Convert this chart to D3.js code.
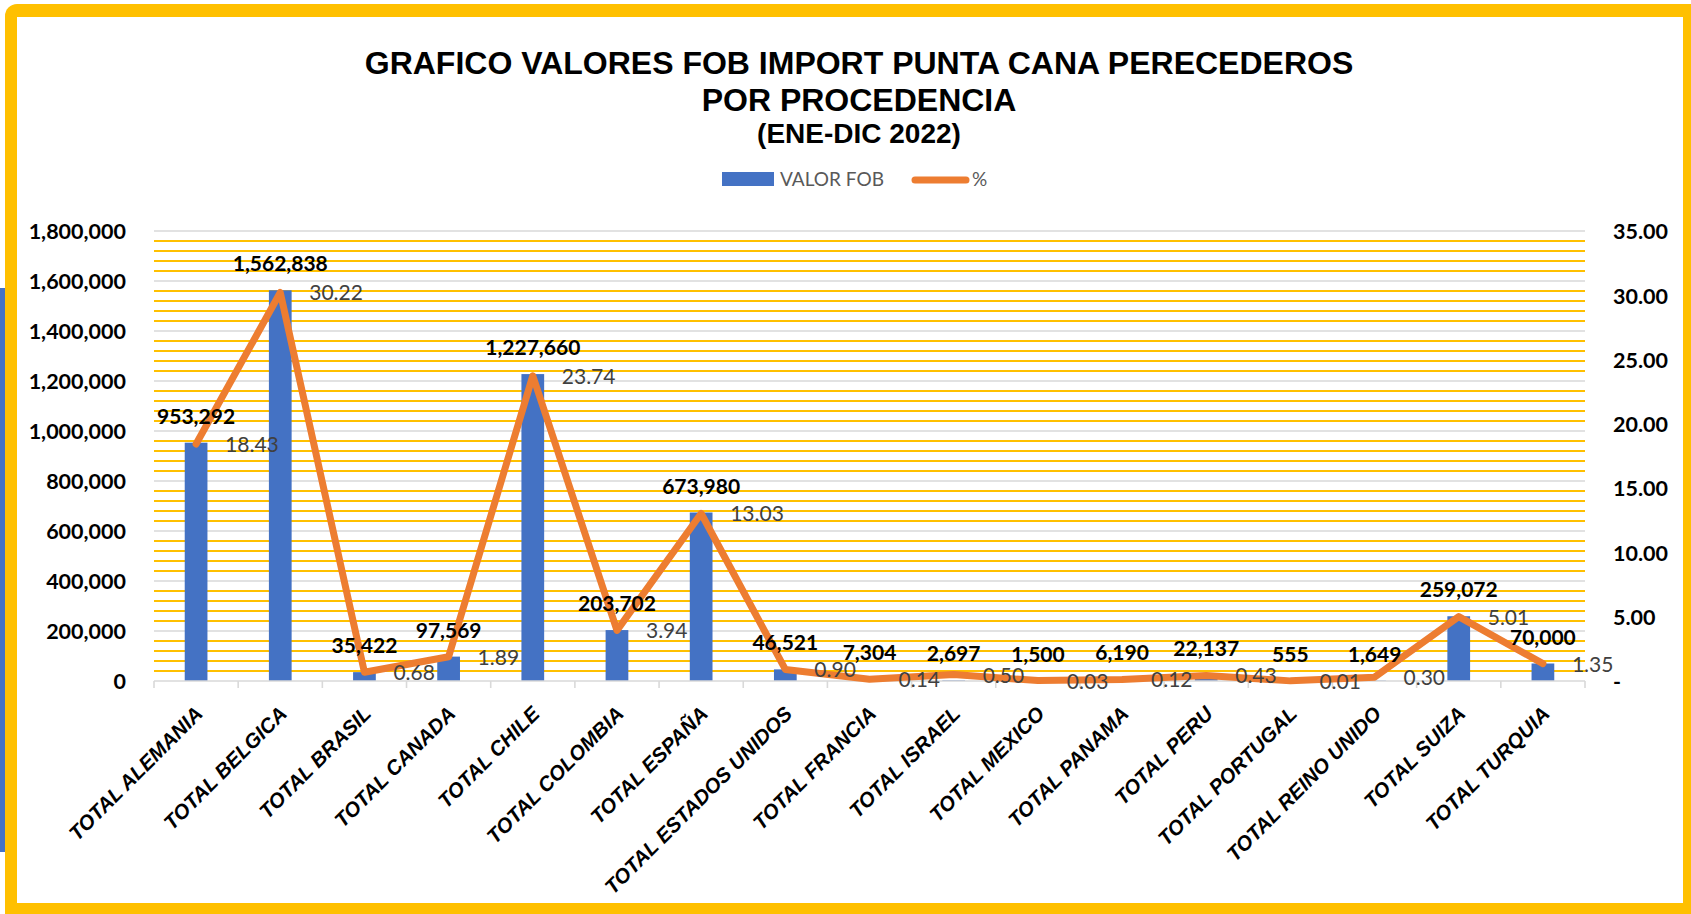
<!DOCTYPE html>
<html>
<head>
<meta charset="utf-8">
<script src="https://cdn.jsdelivr.net/npm/d3@7"></script>
<style>
  html, body { margin: 0; padding: 0; background: #ffffff; }
  svg { display: block; }
</style>
</head>
<body>
<svg id="chart" width="1691" height="914"></svg>
<script>
// ---------- DATA ----------
const categories = [
  "TOTAL ALEMANIA", "TOTAL BELGICA", "TOTAL BRASIL", "TOTAL CANADA", "TOTAL CHILE",
  "TOTAL COLOMBIA", "TOTAL ESPAÑA", "TOTAL ESTADOS UNIDOS", "TOTAL FRANCIA", "TOTAL ISRAEL",
  "TOTAL MEXICO", "TOTAL PANAMA", "TOTAL PERU", "TOTAL PORTUGAL", "TOTAL REINO UNIDO",
  "TOTAL SUIZA", "TOTAL TURQUIA"
];
const valorFob = [953292, 1562838, 35422, 97569, 1227660, 203702, 673980, 46521, 7304,
  2697, 1500, 6190, 22137, 555, 1649, 259072, 70000];
const percent = [18.43, 30.22, 0.68, 1.89, 23.74, 3.94, 13.03, 0.90, 0.14,
  0.50, 0.03, 0.12, 0.43, 0.01, 0.30, 5.01, 1.35];
const leftTicks = [0, 200000, 400000, 600000, 800000, 1000000, 1200000, 1400000, 1600000, 1800000];
const rightTicks = [0, 5, 10, 15, 20, 25, 30, 35];
const minorTicks = d3.range(0, 1800001, 40000).filter(v => v % 200000 !== 0);
const titleLines = ["GRAFICO VALORES FOB IMPORT PUNTA CANA PERECEDEROS", "POR PROCEDENCIA", "(ENE-DIC 2022)"];
const seriesNames = ["VALOR FOB", "%"];

// ---------- LAYOUT ----------
const svg = d3.select("#chart");
const plot = { left: 154, right: 1585, top: 231, bottom: 681 };
const BLUE = "#4472C4", ORANGE = "#ED7D31", GOLD = "#FFC000", GRID = "#D9D9D9";
const LABEL_FONT = "Lato, 'Open Sans', 'Liberation Sans', sans-serif";
const TITLE_FONT = "'Liberation Sans', Arial, sans-serif";

// frame
svg.append("rect").attr("x", 0).attr("y", 288).attr("width", 6).attr("height", 564).attr("fill", BLUE);
svg.append("rect").attr("x", 5).attr("y", 4).attr("width", 1710).attr("height", 930).attr("rx", 12).attr("fill", GOLD);
svg.append("rect").attr("x", 17).attr("y", 17).attr("width", 1666).attr("height", 886).attr("fill", "#ffffff");

// scales
const x = d3.scaleBand().domain(categories).range([plot.left, plot.right]).padding(0);
const yL = d3.scaleLinear().domain([0, 1800000]).range([plot.bottom, plot.top]);
const yR = d3.scaleLinear().domain([0, 35]).range([plot.bottom, plot.top]);
const barW = x.bandwidth() * 0.27;
const cx = d => x(d) + x.bandwidth() / 2;

// gridlines
svg.append("g").selectAll("line").data(minorTicks).join("line")
  .attr("x1", plot.left).attr("x2", plot.right)
  .attr("y1", d => yL(d)).attr("y2", d => yL(d))
  .attr("stroke", GOLD).attr("stroke-width", 2);
svg.append("g").selectAll("line").data(leftTicks.filter(d => d > 0)).join("line")
  .attr("x1", plot.left).attr("x2", plot.right)
  .attr("y1", d => yL(d)).attr("y2", d => yL(d))
  .attr("stroke", GRID).attr("stroke-width", 1.6);

// bars
svg.append("g").selectAll("rect").data(categories).join("rect")
  .attr("x", d => cx(d) - barW / 2)
  .attr("width", barW)
  .attr("y", (d, i) => yL(valorFob[i]))
  .attr("height", (d, i) => yL(0) - yL(valorFob[i]))
  .attr("fill", BLUE);

// x axis line and ticks
svg.append("line").attr("x1", plot.left).attr("x2", plot.right)
  .attr("y1", plot.bottom).attr("y2", plot.bottom)
  .attr("stroke", GRID).attr("stroke-width", 1.6);
const boundaries = categories.map(d => x(d)).concat([x(categories[categories.length - 1]) + x.bandwidth()]);
svg.append("g").selectAll("line").data(boundaries).join("line")
  .attr("x1", d => d).attr("x2", d => d)
  .attr("y1", plot.bottom).attr("y2", plot.bottom + 7)
  .attr("stroke", GRID).attr("stroke-width", 1.6);

// left axis
const axL = svg.append("g").attr("transform", `translate(126,0)`)
  .call(d3.axisLeft(yL).tickValues(leftTicks).tickFormat(d3.format(",")).tickSize(0).tickPadding(0));
axL.select(".domain").remove();
axL.selectAll("text").attr("font-family", LABEL_FONT).attr("font-weight", "bold")
  .attr("font-size", "21.5px").attr("fill", "#000").attr("dy", "0.36em");

// right axis
const axR = svg.append("g").attr("transform", `translate(1613,0)`)
  .call(d3.axisRight(yR).tickValues(rightTicks)
    .tickFormat(d => d === 0 ? "-" : d3.format(".2f")(d)).tickSize(0).tickPadding(0));
axR.select(".domain").remove();
axR.selectAll("text").attr("font-family", LABEL_FONT).attr("font-weight", "bold")
  .attr("font-size", "21.5px").attr("fill", "#000").attr("dy", "0.36em");

// bottom axis labels (rotated)
const axB = svg.append("g").attr("transform", `translate(0,${plot.bottom})`)
  .call(d3.axisBottom(x).tickSize(0).tickPadding(0));
axB.select(".domain").remove();
axB.selectAll(".tick").attr("transform", d => `translate(${cx(d) + 8},34)`);
axB.selectAll("text")
  .attr("x", 0).attr("y", 0).attr("dy", 0)
  .attr("transform", "rotate(-45)")
  .attr("text-anchor", "end")
  .attr("font-family", "'Liberation Sans', Arial, sans-serif").attr("font-weight", "bold").attr("font-style", "italic")
  .attr("font-size", "20.5px").attr("fill", "#000");

// line series
const line = d3.line().x(d => cx(d)).y((d, i) => yR(percent[i]));
svg.append("path").datum(categories).attr("d", line)
  .attr("fill", "none").attr("stroke", ORANGE).attr("stroke-width", 7)
  .attr("stroke-linejoin", "round").attr("stroke-linecap", "round");

// bar value labels
svg.append("g").selectAll("text").data(categories).join("text")
  .attr("x", d => cx(d))
  .attr("y", (d, i) => yL(valorFob[i]) - 19)
  .attr("text-anchor", "middle")
  .attr("font-family", LABEL_FONT).attr("font-weight", "bold").attr("font-size", "21px")
  .attr("fill", "#000")
  .text((d, i) => d3.format(",")(valorFob[i]));

// percent labels
svg.append("g").selectAll("text").data(categories).join("text")
  .attr("x", d => cx(d) + 29)
  .attr("y", (d, i) => yR(percent[i]) + 8)
  .attr("font-family", LABEL_FONT).attr("font-size", "21px")
  .attr("fill", "#404040")
  .text((d, i) => d3.format(".2f")(percent[i]));

// title
const titleSizes = [32, 32, 28];
const titleY = [74, 111, 143];
svg.append("g").selectAll("text").data(titleLines).join("text")
  .attr("x", 859).attr("y", (d, i) => titleY[i])
  .attr("text-anchor", "middle")
  .attr("font-family", TITLE_FONT).attr("font-weight", "bold")
  .attr("font-size", (d, i) => titleSizes[i] + "px").attr("fill", "#000")
  .text(d => d);

// legend
const lg = svg.append("g");
lg.append("rect").attr("x", 722).attr("y", 172).attr("width", 52).attr("height", 14).attr("fill", BLUE);
lg.append("text").attr("x", 780).attr("y", 186).attr("font-family", LABEL_FONT)
  .attr("font-size", "19px").attr("fill", "#595959").text(seriesNames[0]);
lg.append("line").attr("x1", 915).attr("x2", 966).attr("y1", 180).attr("y2", 180)
  .attr("stroke", ORANGE).attr("stroke-width", 7).attr("stroke-linecap", "round");
lg.append("text").attr("x", 972).attr("y", 186).attr("font-family", LABEL_FONT)
  .attr("font-size", "19px").attr("fill", "#595959").text(seriesNames[1]);
</script>
</body>
</html>
